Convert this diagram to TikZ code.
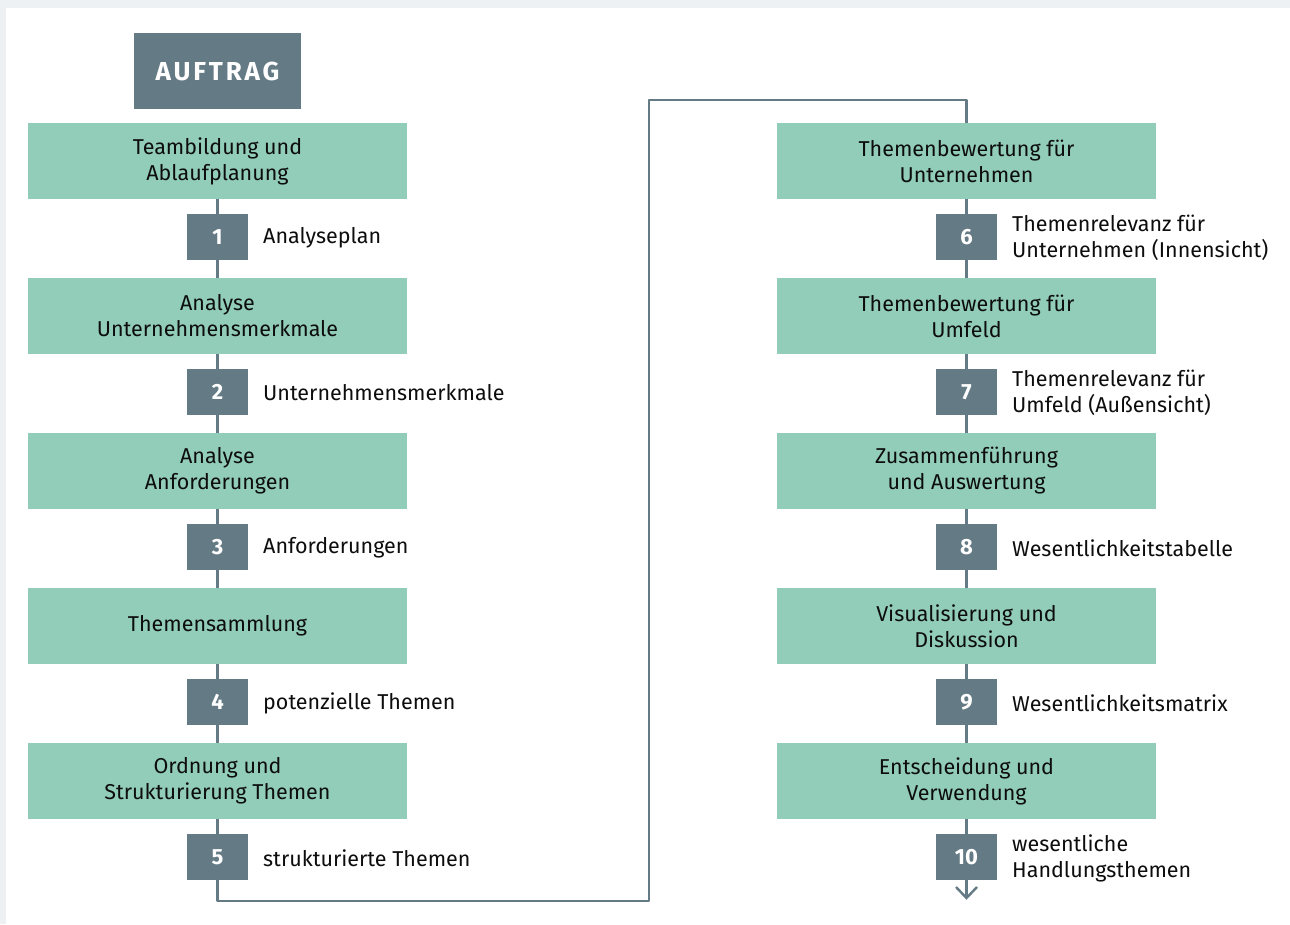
\documentclass[tikz,border=0pt]{standalone}
\usepackage{fontspec}
\setmainfont{Fira Sans}
\usetikzlibrary{calc}
\definecolor{slate}{HTML}{647A84}
\definecolor{mint}{HTML}{92CDB9}
\definecolor{paper}{HTML}{EDF1F4}
\tikzset{
  stage/.style={fill=mint, minimum width=379pt, minimum height=76pt, align=center,
    inner sep=0pt, font=\fontsize{21.5}{26}\selectfont, text=black!95},
  numbox/.style={fill=slate, minimum width=61pt, minimum height=46pt, inner sep=0pt,
    text=white, font=\fontsize{22}{24}\selectfont\bfseries},
  result/.style={anchor=west, align=left, inner sep=0pt,
    font=\fontsize{21.5}{26}\selectfont, text=black!95},
  flow/.style={draw=slate, line width=2.4pt},
}
\begin{document}
\begin{tikzpicture}[x=1pt,y=-1pt]
  % page and panel
  \fill[paper] (0,0) rectangle (1290,924);
  \fill[white] (6,8) rectangle (1290,924);
  \useasboundingbox (0,0) rectangle (1290,924);

  % header
  \node[fill=slate, minimum width=167pt, minimum height=76pt, inner sep=0pt,
        text=white, font=\fontsize{26}{28}\selectfont\bfseries] (auftrag) at (217.5,71)
        {\addfontfeature{LetterSpace=11}AUFTRAG};

  % left column
  \node[stage] (s1) at (217.5,161) {Teambildung und\\Ablaufplanung};
  \node[stage] (s2) at (217.5,316) {Analyse\\Unternehmensmerkmale};
  \node[stage] (s3) at (217.5,471) {Analyse\\Anforderungen};
  \node[stage] (s4) at (217.5,626) {Themensammlung};
  \node[stage] (s5) at (217.5,781) {Ordnung und\\Strukturierung Themen};

  \node[numbox] (n1) at (217.5,237) {1};
  \node[numbox] (n2) at (217.5,392) {2};
  \node[numbox] (n3) at (217.5,547) {3};
  \node[numbox] (n4) at (217.5,702) {4};
  \node[numbox] (n5) at (217.5,857) {5};

  \node[result] (r1) at (263,238) {Analyseplan};
  \node[result] (r2) at (263,393) {Unternehmensmerkmale};
  \node[result] (r3) at (263,548) {Anforderungen};
  \node[result] (r4) at (263,703) {potenzielle Themen};
  \node[result] (r5) at (263,858) {strukturierte Themen};

  % right column
  \node[stage] (s6) at (966.5,161) {Themenbewertung für\\Unternehmen};
  \node[stage] (s7) at (966.5,316) {Themenbewertung für\\Umfeld};
  \node[stage] (s8) at (966.5,471) {Zusammenführung\\und Auswertung};
  \node[stage] (s9) at (966.5,626) {Visualisierung und\\Diskussion};
  \node[stage] (s10) at (966.5,781) {Entscheidung und\\Verwendung};

  \node[numbox] (n6) at (966.5,237) {6};
  \node[numbox] (n7) at (966.5,392) {7};
  \node[numbox] (n8) at (966.5,547) {8};
  \node[numbox] (n9) at (966.5,702) {9};
  \node[numbox] (n10) at (966.5,857) {10};

  \node[result] (r6) at (1012,238) {Themenrelevanz für\\Unternehmen (Innensicht)};
  \node[result] (r7) at (1012,393) {Themenrelevanz für\\Umfeld (Außensicht)};
  \node[result] (r8) at (1012,548) {Wesentlichkeitstabelle};
  \node[result] (r9) at (1012,703) {Wesentlichkeitsmatrix};
  \node[result] (r10) at (1012,858) {wesentliche\\Handlungsthemen};

  % connectors
  \coordinate (c1) at (649,901);
  \coordinate (c2) at (649,100);
  \coordinate (tip) at (966.5,898);

  \draw[flow] (s1) -- (n1); \draw[flow] (n1) -- (s2);
  \draw[flow] (s2) -- (n2); \draw[flow] (n2) -- (s3);
  \draw[flow] (s3) -- (n3); \draw[flow] (n3) -- (s4);
  \draw[flow] (s4) -- (n4); \draw[flow] (n4) -- (s5);
  \draw[flow] (s5) -- (n5);
  \draw[flow, line join=round] (n5.south) |- (c1) -- (c2) -| (s6.north);
  \draw[flow] (s6) -- (n6); \draw[flow] (n6) -- (s7);
  \draw[flow] (s7) -- (n7); \draw[flow] (n7) -- (s8);
  \draw[flow] (s8) -- (n8); \draw[flow] (n8) -- (s9);
  \draw[flow] (s9) -- (n9); \draw[flow] (n9) -- (s10);
  \draw[flow] (s10) -- (n10);
  \draw[flow] (n10.south) -- (tip);
  \draw[flow] ($(tip)+(-10.5,-11)$) -- (tip) -- ($(tip)+(10.5,-11)$);
\end{tikzpicture}
\end{document}
